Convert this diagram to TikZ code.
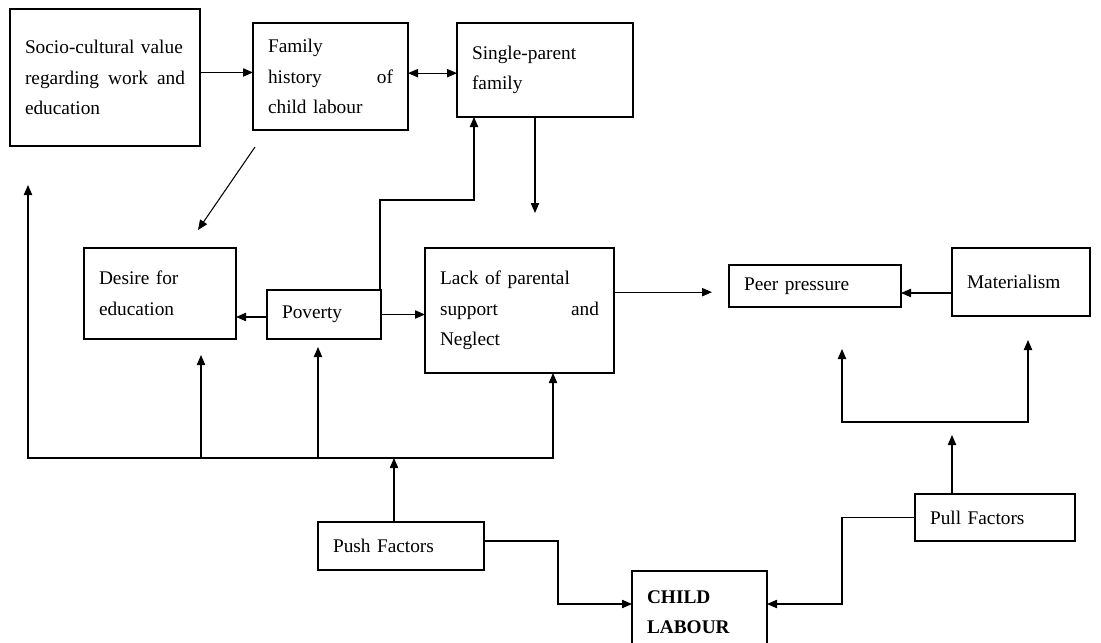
\documentclass[tikz,border=0pt]{standalone}
\usepackage{fontspec}
\setmainfont{Liberation Serif}
\usetikzlibrary{arrows.meta}

\begin{document}
\begin{tikzpicture}[
  x=0.3mm, y=-0.3mm,
  >={Triangle[length=3mm, width=2.5mm]},
  factor/.style={
    draw=black, line width=1.1pt, anchor=north west, outer sep=0pt,
    align=left, inner xsep=4.5mm, inner ysep=0pt,
    font=\fontsize{16.5}{26}\selectfont, text=black
  },
  link/.style={->, line width=0.9pt, black},
]

% Canvas
\useasboundingbox (0,0) rectangle (1101,643);
\clip (0,0) rectangle (1101,643);

% =============================================
% Top row
% =============================================
\node[factor, text width=48mm, minimum height=41.1mm] (socio) at (10,9)
  {Socio-cultural value\\regarding\hfill work\hfill and\\education};
\node[factor, text width=37.5mm, minimum height=32.1mm] (fam) at (253,23)
  {Family\\history\hfill of\\child labour};
\node[factor, text width=43.8mm, minimum height=28.2mm] (single) at (457,23)
  {Single-parent\\family};

% =============================================
% Middle row
% =============================================
\node[factor, text width=36.6mm, minimum height=27.3mm] (desire) at (84,248)
  {Desire for\\education};
\node[factor, text width=25.2mm, minimum height=14.7mm] (pov) at (267,290)
  {Poverty};
\node[factor, text width=47.7mm, minimum height=37.5mm] (lack) at (425,248)
  {Lack of parental\\support\hfill and\\Neglect};
\node[factor, text width=42.6mm, minimum height=12.6mm] (peer) at (729,265)
  {Peer pressure};
\node[factor, text width=32.4mm, minimum height=20.4mm] (mater) at (952,248)
  {Materialism};

% =============================================
% Push / pull factors and child labour
% =============================================
\node[factor, text width=40.8mm, minimum height=14.4mm] (push) at (318,522)
  {Push Factors};
\node[factor, text width=39mm, minimum height=14.1mm] (pull) at (915,494)
  {Pull Factors};
\node[factor, text width=31.5mm, minimum height=24.6mm] (child) at (632,571)
  {\textbf{CHILD}\\\textbf{LABOUR}};

\coordinate (bus) at ([yshift=19.2mm]push.north west);

% =============================================
% Arrows
% =============================================

% Top row links
\draw[link] ([yshift=1.5mm]socio.east) -- ([yshift=1.5mm]socio.east -| fam.west);
\draw[link, <->] ([yshift=1mm]fam.east) -- ([yshift=1mm]fam.east -| single.west);
\draw[link] ([shift={(0.6mm,-5.1mm)}]fam.south west) -- ([shift={(34.2mm,5.4mm)}]desire.north west);
\draw[link] ([xshift=23.4mm]single.south west) -- ++(0,-28.8mm);

% Poverty
\draw[link] ([xshift=-0.3mm]pov.north east) -- ++(0,27mm) -| ([xshift=5.1mm]single.south west);
\draw[link] ([yshift=-0.75mm]pov.west) -- ([yshift=-0.75mm]pov.west -| desire.east);
\draw[link] (pov.east) -- (pov.east -| lack.west);

% Peer pressure
\draw[link] ([yshift=5.5mm]lack.east) -- ++(29.4mm,0);
\draw[link] ([yshift=-3.3mm]mater.west) -- ([yshift=-3.3mm]mater.west -| peer.east);

% Push factors -> bus
\draw[link] ([xshift=22.8mm]push.north west) -- ([xshift=22.8mm]push.north west |- bus);
\draw[link, <->] ([shift={(5.4mm,-11.7mm)}]socio.south west) |- ([xshift=38.4mm]lack.south west |- bus)
  -- ([xshift=38.4mm]lack.south west);
\draw[link] ([xshift=35.1mm]desire.south west |- bus) -- ([shift={(35.1mm,-4.8mm)}]desire.south west);
\draw[link] ([xshift=15.3mm]pov.south west |- bus) -- ([shift={(15.3mm,-2.4mm)}]pov.south west);

% Pull factors
\draw[link] ([xshift=11.1mm]pull.north west) -- ++(0,17.7mm);
\draw[link, <->] ([shift={(33.9mm,-12.6mm)}]peer.south west) -- ++(0,-21.9mm)
  -| ([shift={(22.8mm,-7.2mm)}]mater.south west);

% Into child labour
\draw[link] ([yshift=1.5mm]push.east) -- ++(22.2mm,0) |- ([yshift=2.4mm]child.west);
\draw[link] (pull.west) -- ++(-21.9mm,0) |- ([yshift=2.4mm]child.east);

\end{tikzpicture}
\end{document}
